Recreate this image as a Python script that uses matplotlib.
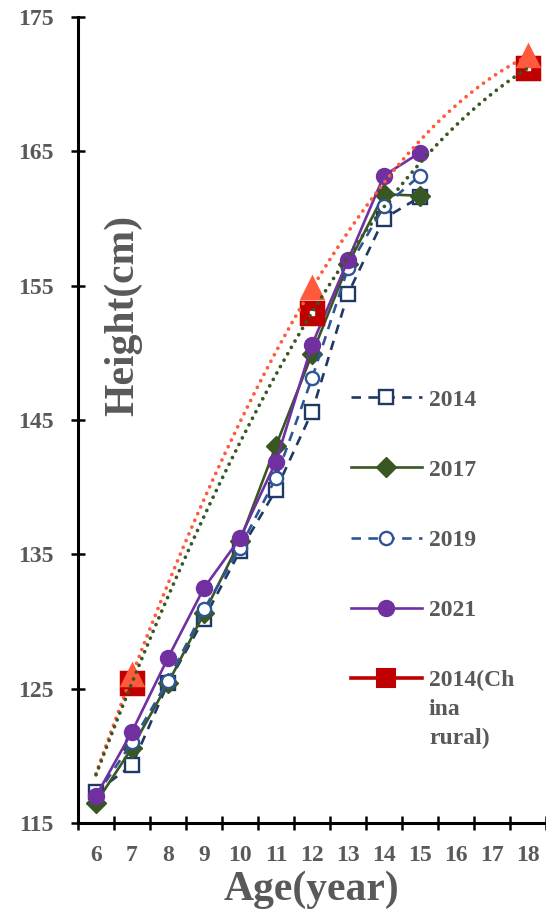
import numpy as np
import matplotlib
matplotlib.use('Agg')
import matplotlib.pyplot as plt
from matplotlib.lines import Line2D

# ---------------- data ----------------
ages = [6, 7, 8, 9, 10, 11, 12, 13, 14, 15]
h2014 = [117.3, 119.3, 125.4, 130.2, 135.25, 139.8, 145.6, 154.4, 160.0, 161.6]
h2017 = [116.5, 120.6, 125.4, 130.6, 136.0, 143.1, 149.9, 156.6, 161.8, 161.7]
h2019 = [117.0, 121.0, 125.6, 130.9, 135.5, 140.7, 148.1, 156.3, 160.9, 163.2]
h2021 = [117.0, 121.8, 127.3, 132.5, 136.2, 141.9, 150.6, 156.9, 163.2, 164.9]
rural_ages = [7, 12, 18]
h_rural = [125.45, 153.0, 171.2]
h_ref = [126.0, 154.8, 172.1]
x_ticks = list(range(6, 19))
y_ticks = [115, 125, 135, 145, 155, 165, 175]
series_labels = ['2014', '2017', '2019', '2021', '2014(Ch']

# ---------------- style ----------------
FONT = 'Liberation Serif'
GRAY = '#595959'
C2014 = '#203864'
C2017 = '#385723'
C2019 = '#2F5597'
C2021 = '#7030A0'
CRUR = '#C00000'
CREF = '#FF5A3C'

W, H = 546, 913
fig = plt.figure(figsize=(W / 100, H / 100), dpi=100)
ax = fig.add_axes([78 / W, 1 - 823 / H, 1 - 78 / W, (823 - 17) / H])

s2014 = dict(color=C2014, lw=1.9, dashes=(3.6, 2.8), marker='s', ms=9.5,
             mfc='white', mec=C2014, mew=1.7)
s2017 = dict(color=C2017, lw=1.9, marker='D', ms=10, mfc=C2017, mec=C2017)
s2019 = dict(color=C2019, lw=1.9, dashes=(3.6, 2.8), marker='o', ms=9.5,
             mfc='white', mec=C2019, mew=1.7)
s2021 = dict(color=C2021, lw=1.9, marker='o', ms=11.5, mfc=C2021, mec=C2021)

ax.plot(ages, h2014, zorder=2, **s2014)
ax.plot(ages, h2017, zorder=3, **s2017)
ax.plot(ages, h2019, zorder=4, **s2019)
ax.plot(ages, h2021, zorder=5, **s2021)
ax.plot(rural_ages, h_rural, linestyle='none', zorder=6,
        marker='s', ms=15.5, mfc=CRUR, mec=CRUR, mew=2.5)
ax.plot(rural_ages, h_rural, linestyle='none', zorder=6.5,
        marker='s', ms=3.5, mfc='white', mec='white')
ax.plot(rural_ages, h_ref, linestyle='none', zorder=7,
        marker='^', ms=15, mfc=CREF, mec=CREF, mew=2.5)

# polynomial (order 2) trendlines
xs = np.linspace(6, 18, 300)
p_ref = np.polyfit(rural_ages, h_ref, 2)
p_rur = np.polyfit(rural_ages, h_rural, 2)
ax.plot(xs, np.polyval(p_ref, xs), color=CREF, lw=2.7, dashes=(0.01, 1.95),
        dash_capstyle='round', zorder=8)
ax.plot(xs, np.polyval(p_rur, xs), color=C2017, lw=2.7, dashes=(0.01, 1.95),
        dash_capstyle='round', zorder=8)

# ---------------- axes ----------------
ax.set_xlim(5.5, 18.5)
ax.set_ylim(115, 175)
for s in ['top', 'right']:
    ax.spines[s].set_visible(False)
for s in ['left', 'bottom']:
    ax.spines[s].set_linewidth(2.2)
    ax.spines[s].set_color('black')

ax.set_yticks(y_ticks)
ax.set_yticklabels([str(v) for v in y_ticks])
ax.tick_params(axis='y', which='major', direction='inout', length=9.5,
               width=1.8, pad=13, labelsize=17, labelcolor=GRAY)
ax.set_xticks(x_ticks)
ax.set_xticklabels([str(v) for v in x_ticks])
ax.set_xticks(np.arange(5.5, 19, 1.0), minor=True)
ax.tick_params(axis='x', which='major', length=0, pad=16, labelsize=17,
               labelcolor=GRAY)
ax.tick_params(axis='x', which='minor', direction='inout', length=9.5,
               width=1.8)
for lab in ax.get_xticklabels() + ax.get_yticklabels():
    lab.set_fontfamily(FONT)
    lab.set_fontweight('bold')

ax.set_xlabel('Age(year)', fontsize=30, fontweight='bold', color=GRAY,
              family=FONT, labelpad=3)
fig.text(123 / W, 1 - 315 / H, 'Height(cm)', rotation=90, ha='center',
         va='center', fontsize=30, fontweight='bold', color=GRAY, family=FONT)

# ---------------- legend ----------------
handles = [
    Line2D([], [], **s2014),
    Line2D([], [], **s2017),
    Line2D([], [], **s2019),
    Line2D([], [], **s2021),
    Line2D([], [], color=CRUR, lw=2.6, marker='s', ms=13, mfc=CRUR, mec=CRUR,
           mew=1.5),
]
leg = ax.legend(handles, series_labels, loc='upper left',
                bbox_to_anchor=(351 / W, 1 - 389 / H),
                bbox_transform=fig.transFigure, frameon=False,
                prop={'family': FONT, 'weight': 'bold', 'size': 17},
                handlelength=3.0, handletextpad=0.3, labelspacing=2.06,
                borderpad=0, borderaxespad=0)
for t in leg.get_texts():
    t.set_color(GRAY)

fig.canvas.draw()
t_last = leg.get_texts()[-1]
bx, by = t_last.get_transform().transform(t_last.get_position())
bb = t_last.get_window_extent()
for i, extra in enumerate(['ina', 'rural)']):
    fig.text(bb.x0 / W, (by - 28.7 * (i + 1)) / H, extra, ha='left',
             va='baseline', fontsize=17, fontweight='bold', color=GRAY,
             family=FONT)

fig.savefig('out.png', dpi=100)
